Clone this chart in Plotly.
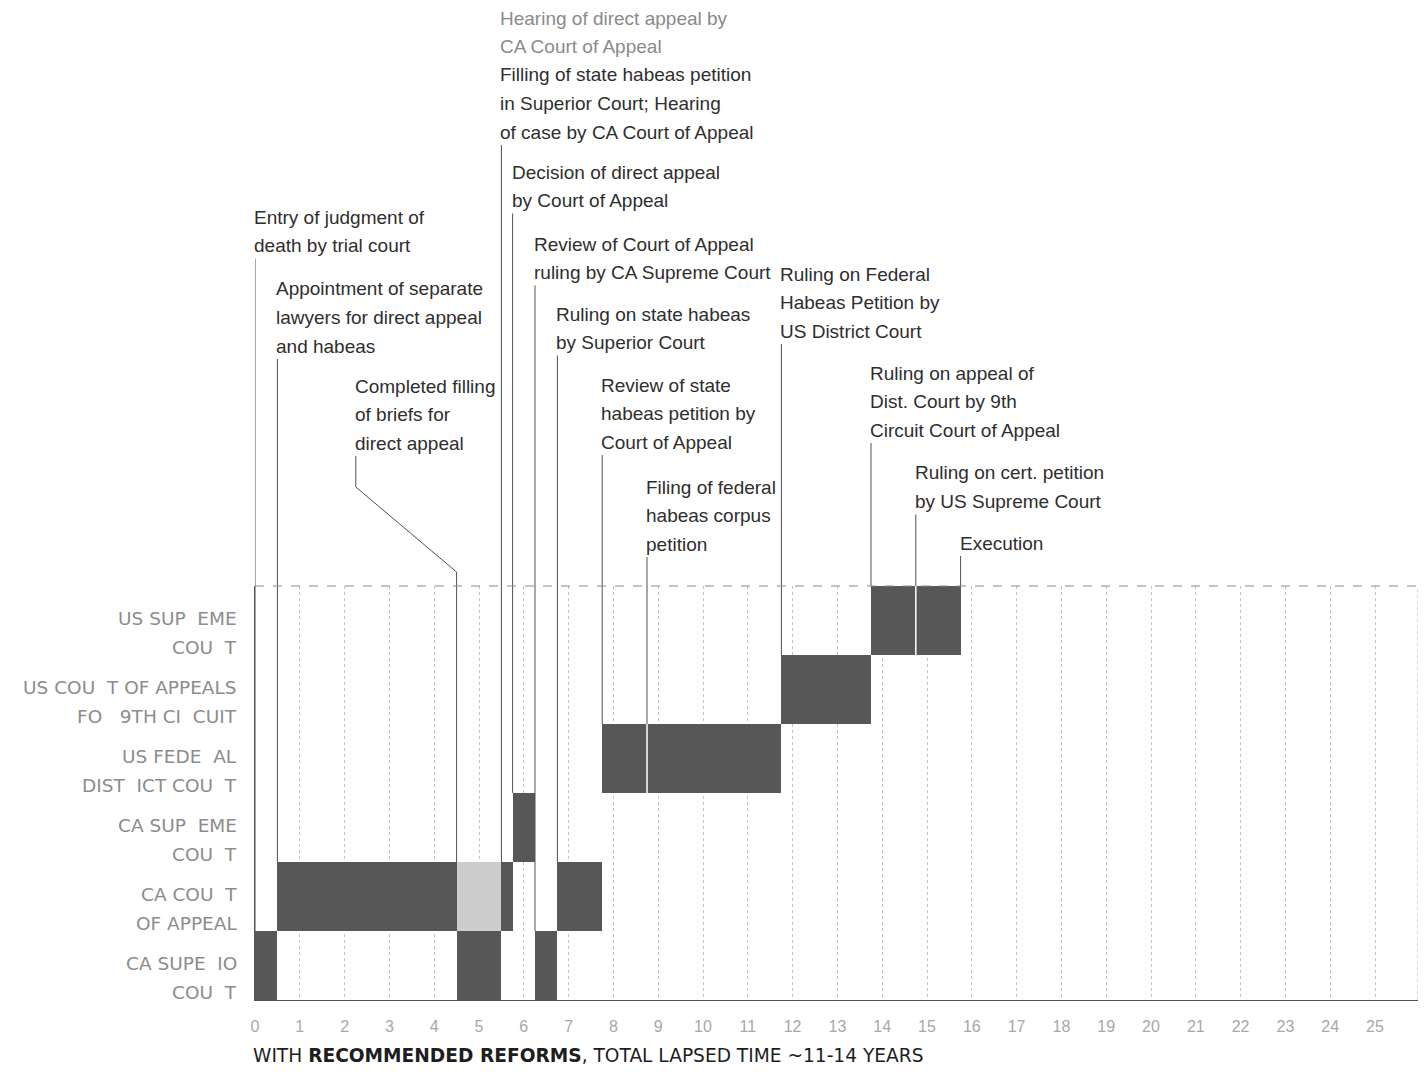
#!/usr/bin/env python3
"""Timeline of a capital case through the courts, with recommended reforms."""
from __future__ import annotations

import plotly.graph_objects as go

# Court rows, bottom to top (labels as printed, two lines each)
COURT_LABELS = [
    ["CA SUPE  IO", "COU  T"],
    ["CA COU  T", "OF APPEAL"],
    ["CA SUP  EME", "COU  T"],
    ["US FEDE  AL", "DIST  ICT COU  T"],
    ["US COU  T OF APPEALS", "FO   9TH CI  CUIT"],
    ["US SUP  EME", "COU  T"],
]

# Bar segments (years)
SEG_ROW = [0, 0, 0, 1, 1, 1, 1, 2, 3, 4, 5]
SEG_START = [0, 4.5, 6.25, 0.5, 4.5, 5.5, 6.75, 5.75, 7.75, 11.75, 13.75]
SEG_END = [0.5, 5.5, 6.75, 4.5, 5.5, 5.75, 7.75, 6.25, 11.75, 13.75, 15.75]
SEG_SHADE = ["dark", "dark", "dark", "dark", "light", "dark", "dark", "dark", "dark", "dark", "dark"]

# Milestones: year and the row whose bar the leader line lands on
EVENT_X = [0, 0.5, 4.5, 5.5, 5.75, 6.25, 6.75, 7.75, 8.75, 11.75, 13.75, 14.75, 15.75]
EVENT_ROW = [0, 1, 1, 1, 2, 0, 1, 3, 3, 4, 5, 5, 5]
EVENT_TEXT = [
    ["Entry of judgment of", "death by trial court"],
    ["Appointment of separate", "lawyers for direct appeal", "and habeas"],
    ["Completed filling", "of briefs for", "direct appeal"],
    ["Filling of state habeas petition", "in Superior Court; Hearing", "of case by CA Court of Appeal"],
    ["Decision of direct appeal", "by Court of Appeal"],
    ["Review of Court of Appeal", "ruling by CA Supreme Court"],
    ["Ruling on state habeas", "by Superior Court"],
    ["Review of state", "habeas petition by", "Court of Appeal"],
    ["Filing of federal", "habeas corpus", "petition"],
    ["Ruling on Federal", "Habeas Petition by", "US District Court"],
    ["Ruling on appeal of", "Dist. Court by 9th", "Circuit Court of Appeal"],
    ["Ruling on cert. petition", "by US Supreme Court"],
    ["Execution"],
]
STRUCK_TEXT = ["Hearing of direct appeal by", "CA Court of Appeal"]
X_TICKS = list(range(0, 26))

# Layout, in page pixels (the page body adds an 8px margin round the figure)
PAGE_PAD = 8
WIN_W, WIN_H = 1426, 1076
PLOT_LEFT, PLOT_RIGHT = 255, 1418
PLOT_TOP, PLOT_BOTTOM = 586, 1000
PX_PER_YEAR = 44.8
LABEL_TOP_PX = [217, 289, 386, 75, 172, 244, 314, 385, 487, 274, 373, 473, 543]
STRUCK_TOP_PX = 18
LINE_STEP = 28.5
ELBOW_X = 2.25  # where the "Completed filling" label sits
TITLE_PX = 1055

FONT = "Liberation Sans, Arial, sans-serif"
CAPS_FONT = "DejaVu Sans, Verdana, sans-serif"
TEXT_COLOR = "#2e2e2e"
LEADER_COLOR = "#505050"
SHADES = {"dark": "#575757", "light": "#cdcdcd"}


def py(y_px: float) -> float:
    """Page pixel row -> paper y coordinate."""
    return (PLOT_BOTTOM - y_px) / (PLOT_BOTTOM - PLOT_TOP)


def build_figure() -> go.Figure:
    fig = go.Figure()
    fig.add_trace(
        go.Bar(
            orientation="h",
            y=SEG_ROW,
            base=SEG_START,
            x=[e - s for s, e in zip(SEG_START, SEG_END)],
            width=1,
            marker={"color": [SHADES[s] for s in SEG_SHADE], "line": {"width": 0}},
            hoverinfo="skip",
            showlegend=False,
        )
    )

    shapes = []
    annotations = []
    top_row = len(COURT_LABELS) - 0.5
    text_font = {"family": FONT, "size": 19, "color": TEXT_COLOR}

    for i, (ex, row, lines) in enumerate(zip(EVENT_X, EVENT_ROW, EVENT_TEXT)):
        first = LABEL_TOP_PX[i]
        label_x = ELBOW_X if ex == 4.5 else ex
        for k, line in enumerate(lines):
            annotations.append(dict(
                x=label_x, xref="x", y=py(first + k * LINE_STEP), yref="paper",
                text=line, showarrow=False, xanchor="left", yanchor="middle",
                xshift=-3, font=text_font,
            ))
        start_px = first + (len(lines) - 1) * LINE_STEP + 13
        line_style = {"color": LEADER_COLOR, "width": 1}
        if ex == 4.5:
            path = (f"M {ELBOW_X},{py(start_px)} L {ELBOW_X},{py(487)} "
                    f"L {ex},{py(572)} L {ex},1")
            shapes.append(dict(type="path", xref="x", yref="paper", path=path, line=line_style))
        else:
            shapes.append(dict(type="line", xref="x", yref="paper", x0=ex, x1=ex,
                               y0=py(start_px), y1=1, line=line_style))
        # leader down to the top of the bar
        shapes.append(dict(type="line", xref="x", yref="y", x0=ex, x1=ex,
                           y0=top_row, y1=row + 0.5, line=line_style))
        # white cut where the milestone falls inside a bar
        for r, s, e in zip(SEG_ROW, SEG_START, SEG_END):
            if r == row and s < ex < e:
                shapes.append(dict(type="line", xref="x", yref="y", x0=ex, x1=ex,
                                   y0=row + 0.5, y1=row - 0.5, layer="above",
                                   line={"color": "white", "width": 1.5}))

    for k, line in enumerate(STRUCK_TEXT):
        annotations.append(dict(
            x=5.5, xref="x", y=py(STRUCK_TOP_PX + k * LINE_STEP), yref="paper",
            text=line, showarrow=False, xanchor="left", yanchor="middle",
            xshift=-3, font={"family": FONT, "size": 19, "color": "#8a8a8a"},
        ))

    for r, (l1, l2) in enumerate(COURT_LABELS):
        for txt, shift in ((l1, 2), (l2, -26.5)):
            annotations.append(dict(
                x=0, xref="paper", y=r, yref="y", yshift=shift, text=txt,
                showarrow=False, xanchor="right", yanchor="middle", xshift=-16,
                font={"family": CAPS_FONT, "size": 18.5, "color": "#8c8c8c"},
            ))

    annotations.append(dict(
        x=0, xref="paper", y=py(TITLE_PX), yref="paper", xanchor="left", yanchor="middle",
        xshift=-3, showarrow=False, borderpad=0,
        text="WITH <b>RECOMMENDED REFORMS</b>, TOTAL LAPSED TIME ~11-14 YEARS",
        font={"family": CAPS_FONT, "size": 18.6, "color": "#1e1e1e"},
    ))

    # frame: dashed top edge and dotted right edge
    shapes.append(dict(type="line", xref="paper", yref="paper", x0=0, x1=1, y0=1, y1=1,
                       line={"color": "#8a8a8a", "width": 1, "dash": "dash"}))
    shapes.append(dict(type="line", xref="paper", yref="paper", x0=1, x1=1, y0=0, y1=1,
                       line={"color": "#b5b5b5", "width": 1, "dash": "dot"}))

    fig_w = WIN_W - 2 * PAGE_PAD
    fig_h = WIN_H - 2 * PAGE_PAD
    fig.update_layout(
        width=fig_w,
        height=fig_h,
        margin={
            "l": PLOT_LEFT - PAGE_PAD,
            "r": fig_w - (PLOT_RIGHT - PAGE_PAD),
            "t": PLOT_TOP - PAGE_PAD,
            "b": fig_h - (PLOT_BOTTOM - PAGE_PAD),
            "pad": 0,
        },
        plot_bgcolor="white",
        paper_bgcolor="white",
        shapes=shapes,
        annotations=annotations,
        bargap=0,
        showlegend=False,
        font={"family": FONT},
    )
    fig.update_xaxes(
        range=[0, (PLOT_RIGHT - PLOT_LEFT) / PX_PER_YEAR],
        tickvals=X_TICKS,
        ticks="",
        ticklabelstandoff=12,
        tickfont={"family": FONT, "size": 16, "color": "#a8a8a8"},
        showgrid=True,
        gridcolor="#c4c4c4",
        griddash="dot",
        gridwidth=1,
        zeroline=False,
        showline=True,
        linecolor="#555555",
        linewidth=1,
        fixedrange=True,
    )
    fig.update_yaxes(
        range=[-0.5, len(COURT_LABELS) - 0.5],
        showticklabels=False,
        showgrid=False,
        zeroline=False,
        showline=True,
        linecolor="#555555",
        linewidth=1,
        fixedrange=True,
    )
    return fig


def main() -> None:
    fig = build_figure()
    fig.write_html("out.html")


if __name__ == "__main__":
    main()
